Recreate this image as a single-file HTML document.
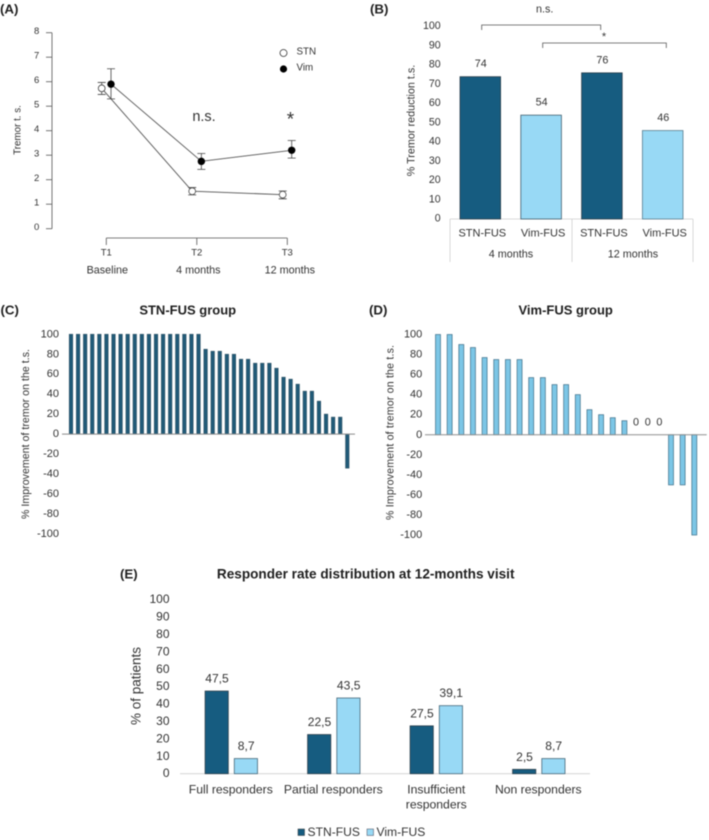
<!DOCTYPE html>
<html lang="en">
<head>
<meta charset="utf-8">
<title>Tremor outcomes: STN-FUS vs Vim-FUS</title>
<style>
html,body{margin:0;padding:0;background:#fff;width:709px;height:840px;overflow:hidden}
svg{display:block;filter:blur(0.4px)}
text{font-family:"Liberation Sans",sans-serif;fill:#333;dominant-baseline:central}
.b{font-weight:700;fill:#1f1f1f}
</style>
</head>
<body>
<svg id="fig" width="709" height="840" viewBox="0 0 709 840" xmlns="http://www.w3.org/2000/svg">
  <text class="b" x="0" y="9" font-size="13.3">(A)</text>
  <text class="b" x="370" y="9" font-size="13.3">(B)</text>
  <text class="b" x="0.5" y="310" font-size="13.3">(C)</text>
  <text class="b" x="369" y="310" font-size="13.3">(D)</text>
  <text class="b" x="120" y="574" font-size="13.3">(E)</text>

  <text class="b" x="187.7" y="310" font-size="13" text-anchor="middle">STN-FUS group</text>
  <text class="b" x="565.7" y="310" font-size="13" text-anchor="middle">Vim-FUS group</text>
  <text class="b" x="365.7" y="574" font-size="13.6" text-anchor="middle">Responder rate distribution at 12-months visit</text>

  <text x="0" y="0" font-size="9.8" text-anchor="middle" transform="translate(18 130) rotate(-90)">Tremor t. s.</text>
  <text x="0" y="0" font-size="10.8" text-anchor="middle" transform="translate(411.7 120.5) rotate(-90)">% Tremor reduction t.s.</text>
  <text x="0" y="0" font-size="10.6" text-anchor="middle" textLength="170" transform="translate(26 434) rotate(-90)">% Improvement of tremor on the t.s.</text>
  <text x="0" y="0" font-size="10.6" text-anchor="middle" textLength="175" transform="translate(390.7 432.5) rotate(-90)">% Improvement of tremor on the t.s.</text>
  <text x="0" y="0" font-size="13.5" text-anchor="middle" transform="translate(136 686) rotate(-90)">% of patients</text>

  <g>
    <text x="204" y="117" font-size="14.5" text-anchor="middle">n.s.</text>
    <text x="290.5" y="120" font-size="19" text-anchor="middle">*</text>
    <circle cx="283.5" cy="53" r="3.5" fill="#fff" stroke="#333" stroke-width="0.8"/>
    <text x="296.5" y="52" font-size="9.8">STN</text>
    <circle cx="283.5" cy="69" r="3.6" fill="#000"/>
    <text x="296.5" y="68" font-size="9.8">Vim</text>
  </g>

  <g fill="none" stroke="#555" stroke-width="0.8">
    <path d="M481.7 30V25H600.7V30"/>
    <path d="M542.7 48V43H666.3V48"/>
  </g>
  <text x="544.7" y="9.5" font-size="10.8" text-anchor="middle">n.s.</text>
  <text x="604" y="37" font-size="11" text-anchor="middle">*</text>

  <g fill="none" stroke="#cfcfcf" stroke-width="0.8">
    <path d="M450 219V262M572 219V262M693 219V262"/>
  </g>
  <text x="511" y="254.5" font-size="10.8" text-anchor="middle">4 months</text>
  <text x="633" y="254.5" font-size="10.8" text-anchor="middle">12 months</text>

  <g>
    <rect x="298" y="829" width="6.5" height="6.5" fill="#165c80" stroke="#333" stroke-width="0.5"/>
    <text x="307.5" y="832" font-size="12.1">STN-FUS</text>
    <rect x="367" y="829" width="6.5" height="6.5" fill="#98d9f5" stroke="#445" stroke-width="0.5"/>
    <text x="376.5" y="832" font-size="12.1">Vim-FUS</text>
  </g>
</svg>

<script>
/* Panel A */
const aTicks = [0, 1, 2, 3, 4, 5, 6, 7, 8];
const aTimes = ['T1', 'T2', 'T3'];
const aVisits = ['Baseline', '4 months', '12 months'];
const aStn = [5.73, 1.53, 1.39];
const aStnHigh = [5.97, 1.68, 1.54];
const aStnLow = [5.48, 1.38, 1.22];
const aVim = [5.9, 2.75, 3.2];
const aVimHigh = [6.53, 3.07, 3.6];
const aVimLow = [5.3, 2.42, 2.88];

/* Panel B */
const bTicks = [0, 10, 20, 30, 40, 50, 60, 70, 80, 90, 100];
const bCategories = ['STN-FUS', 'Vim-FUS', 'STN-FUS', 'Vim-FUS'];
const bValues = [74, 54, 76, 46];

/* Panel C */
const waterTicks = [100, 80, 60, 40, 20, 0, -20, -40, -60, -80, -100];
const cValues = [100, 100, 100, 100, 100, 100, 100, 100, 100, 100, 100, 100, 100, 100, 100, 100, 100, 100, 100,
  85, 83, 83, 80, 80, 75, 75, 71, 71, 71, 66, 57, 55, 50, 43, 43, 33, 20, 17, 17, -34];

/* Panel D */
const dValues = [100, 100, 90, 87, 77, 75, 75, 75, 57, 57, 50, 50, 40, 25, 20, 17, 14, 0, 0, 0, -50, -50, -100];

/* Panel E */
const eTicks = [0, 10, 20, 30, 40, 50, 60, 70, 80, 90, 100];
const eCategories = [['Full responders'], ['Partial responders'], ['Insufficient', 'responders'], ['Non responders']];
const eStn = [47.5, 22.5, 27.5, 2.5];
const eVim = [8.7, 43.5, 39.1, 8.7];

const NS = 'http://www.w3.org/2000/svg';
const fig = document.getElementById('fig');
function mk(tag, props, parent) {
  const el = document.createElementNS(NS, tag);
  for (const k in props) el.setAttribute(k, props[k]);
  (parent || fig).appendChild(el);
  return el;
}
function label(str, x, y, size, anchor) {
  const t = mk('text', { x: x, y: y, 'font-size': size, 'text-anchor': anchor || 'middle' });
  t.textContent = str;
  return t;
}
function linear(d0, d1, r0, r1) {
  return function (v) { return r0 + (v - d0) * (r1 - r0) / (d1 - d0); };
}

/* ---------- Panel A ---------- */
const ay = linear(0, 8, 228.7, 32.7);
const axAxis = linear(0, 2, 106.3, 287.3);
const axStn = linear(0, 2, 101.7, 282.7);
const axVim = linear(0, 2, 111, 291.7);

const aYAxis = mk('line', { x1: 52, x2: 52, y1: ay(8), y2: ay(0), stroke: '#555', 'stroke-width': 0.8 });


aTicks.forEach(function (v) {
  const tick = mk('line', { x1: 46, x2: 52, y1: ay(v), y2: ay(v), stroke: '#555', 'stroke-width': 0.8 });
  
  
  const t = label(String(v), 36.7, ay(v) - 1, 9.5);
  
  
});
const aXAxis = mk('line', { x1: axAxis(0), x2: axAxis(2), y1: 238, y2: 238, stroke: '#555', 'stroke-width': 0.8 });


const visitOffset = [1, 1.5, 2.5];
aTimes.forEach(function (name, i) {
  const tick = mk('line', { x1: axAxis(i), x2: axAxis(i), y1: 238, y2: 245, stroke: '#555', 'stroke-width': 0.8 });
  
  
  const t = label(name, axAxis(i), 253, 9.5);
  
  
  const v = label(aVisits[i], axAxis(i) + visitOffset[i], 270.5, 10.8);
  
  
});
function drawSeries(values, high, low, xf, fill, key) {
  const pts = values.map(function (v, i) { return xf(i) + ',' + ay(v); }).join(' ');
  const line = mk('polyline', { points: pts, fill: 'none', stroke: '#555', 'stroke-width': 0.9 });
  
  
  values.forEach(function (v, i) {
    const x = xf(i), cap = 4;
    const d = 'M' + (x - cap) + ' ' + ay(high[i]) + 'H' + (x + cap) +
      'M' + x + ' ' + ay(high[i]) + 'V' + ay(low[i]) +
      'M' + (x - cap) + ' ' + ay(low[i]) + 'H' + (x + cap);
    const err = mk('path', { d: d, fill: 'none', stroke: '#444', 'stroke-width': 0.8 });
    
    
  });
  values.forEach(function (v, i) {
    const dot = mk('circle', { cx: xf(i), cy: ay(v), r: fill === '#000' ? 3.7 : 3.4, fill: fill, stroke: fill === '#000' ? 'none' : '#444', 'stroke-width': 0.8 });
    
    
  });
}
drawSeries(aStn, aStnHigh, aStnLow, axStn, '#fff', 'stn');
drawSeries(aVim, aVimHigh, aVimLow, axVim, '#000', 'vim');

/* ---------- Panel B ---------- */
const by = linear(0, 100, 219, 26.7);
const bx = linear(0, 3, 480.3, 662.7);
const bFill = ['#165c80', '#98d9f5', '#165c80', '#98d9f5'];
const bOut = ['#2c3e4a', '#3f5d6e', '#2c3e4a', '#5b7f90'];
const bBase = mk('line', { x1: 450, x2: 693, y1: by(0), y2: by(0), stroke: '#cfcfcf', 'stroke-width': 0.8 });


bTicks.forEach(function (v) {
  const t = label(String(v), 440.7, by(v) - 0.5, 10.6, 'end');
  
  
});
bValues.forEach(function (v, i) {
  const bar = mk('rect', { x: bx(i) - 20.3, y: by(v), width: 40.6, height: by(0) - by(v), fill: bFill[i], stroke: bOut[i], 'stroke-width': 0.8 });
  
  
  const val = label(String(v), bx(i) + 0.5, by(v) - 12.5, 10.8);
  
  
  const cat = label(bCategories[i], bx(i) + 2, 233.5, 11);
  
  
});

/* ---------- Panels C / D ---------- */
function waterfall(values, opt) {
  const y = linear(100, -100, opt.top, opt.bottom);
  const x = linear(0, values.length - 1, opt.first, opt.last);
  waterTicks.forEach(function (v) {
    const t = label(String(v), opt.tickX, y(v), 11, 'end');
    
    
  });
  values.forEach(function (v, i) {
    if (v === 0) {
      const z = label('0', x(i), y(0) - 12.5, 10.8);
      
      
      return;
    }
    const bar = mk('rect', {
      x: x(i) - opt.w / 2, y: Math.min(y(v), y(0)), width: opt.w,
      height: Math.abs(y(v) - y(0)), fill: opt.fill, stroke: opt.stroke, 'stroke-width': 0.7
    });
    
    
  });
  const axis = mk('line', { x1: opt.x0, x2: opt.x1, y1: y(0), y2: y(0), stroke: opt.axis, 'stroke-width': 1 });
  
  
}
waterfall(cValues, { key: 'panel-c', top: 334.3, bottom: 534, first: 71, last: 347.3, w: 3.4, fill: '#1f5a78', stroke: '#2f5468', tickX: 59, x0: 62, x1: 355, axis: '#8a8a8a' });
waterfall(dValues, { key: 'panel-d', top: 334.5, bottom: 535, first: 438, last: 694.3, w: 5, fill: '#7cc6e6', stroke: '#3f6f88', tickX: 422.3, x0: 425, x1: 706.7, axis: '#8f8f8f' });

/* ---------- Panel E ---------- */
const ey = linear(0, 100, 773.7, 599.7);
const ex = linear(0, 3, 231.3, 538.8);
const eBase = mk('line', { x1: 180, x2: 590, y1: ey(0), y2: ey(0), stroke: '#cfcfcf', 'stroke-width': 0.9 });


eTicks.forEach(function (v) {
  const t = label(String(v), 169.5, ey(v) - 0.5, 12, 'end');
  
  
});
function eBars(values, offset, fill, stroke, key) {
  values.forEach(function (v, i) {
    const cx = ex(i) + offset;
    const bar = mk('rect', { x: cx - 11.6, y: ey(v), width: 23.2, height: ey(0) - ey(v), fill: fill, stroke: stroke, 'stroke-width': 0.8 });
    
    
    const t = label(String(v).replace('.', ','), cx + 0.3, ey(v) - 12.5, 12.1);
    
    
  });
}
eBars(eStn, -14.6, '#165c80', '#2c3e4a', 'stn-fus');
eBars(eVim, 14.6, '#98d9f5', '#47687a', 'vim-fus');
eCategories.forEach(function (lines, i) {
  lines.forEach(function (s, j) {
    const t = label(s, ex(i) - 0.5 + (i === 2 ? 0.5 : 0), 789.5 + j * 15, 12.2);
    
    
  });
});
</script>
</body>
</html>
